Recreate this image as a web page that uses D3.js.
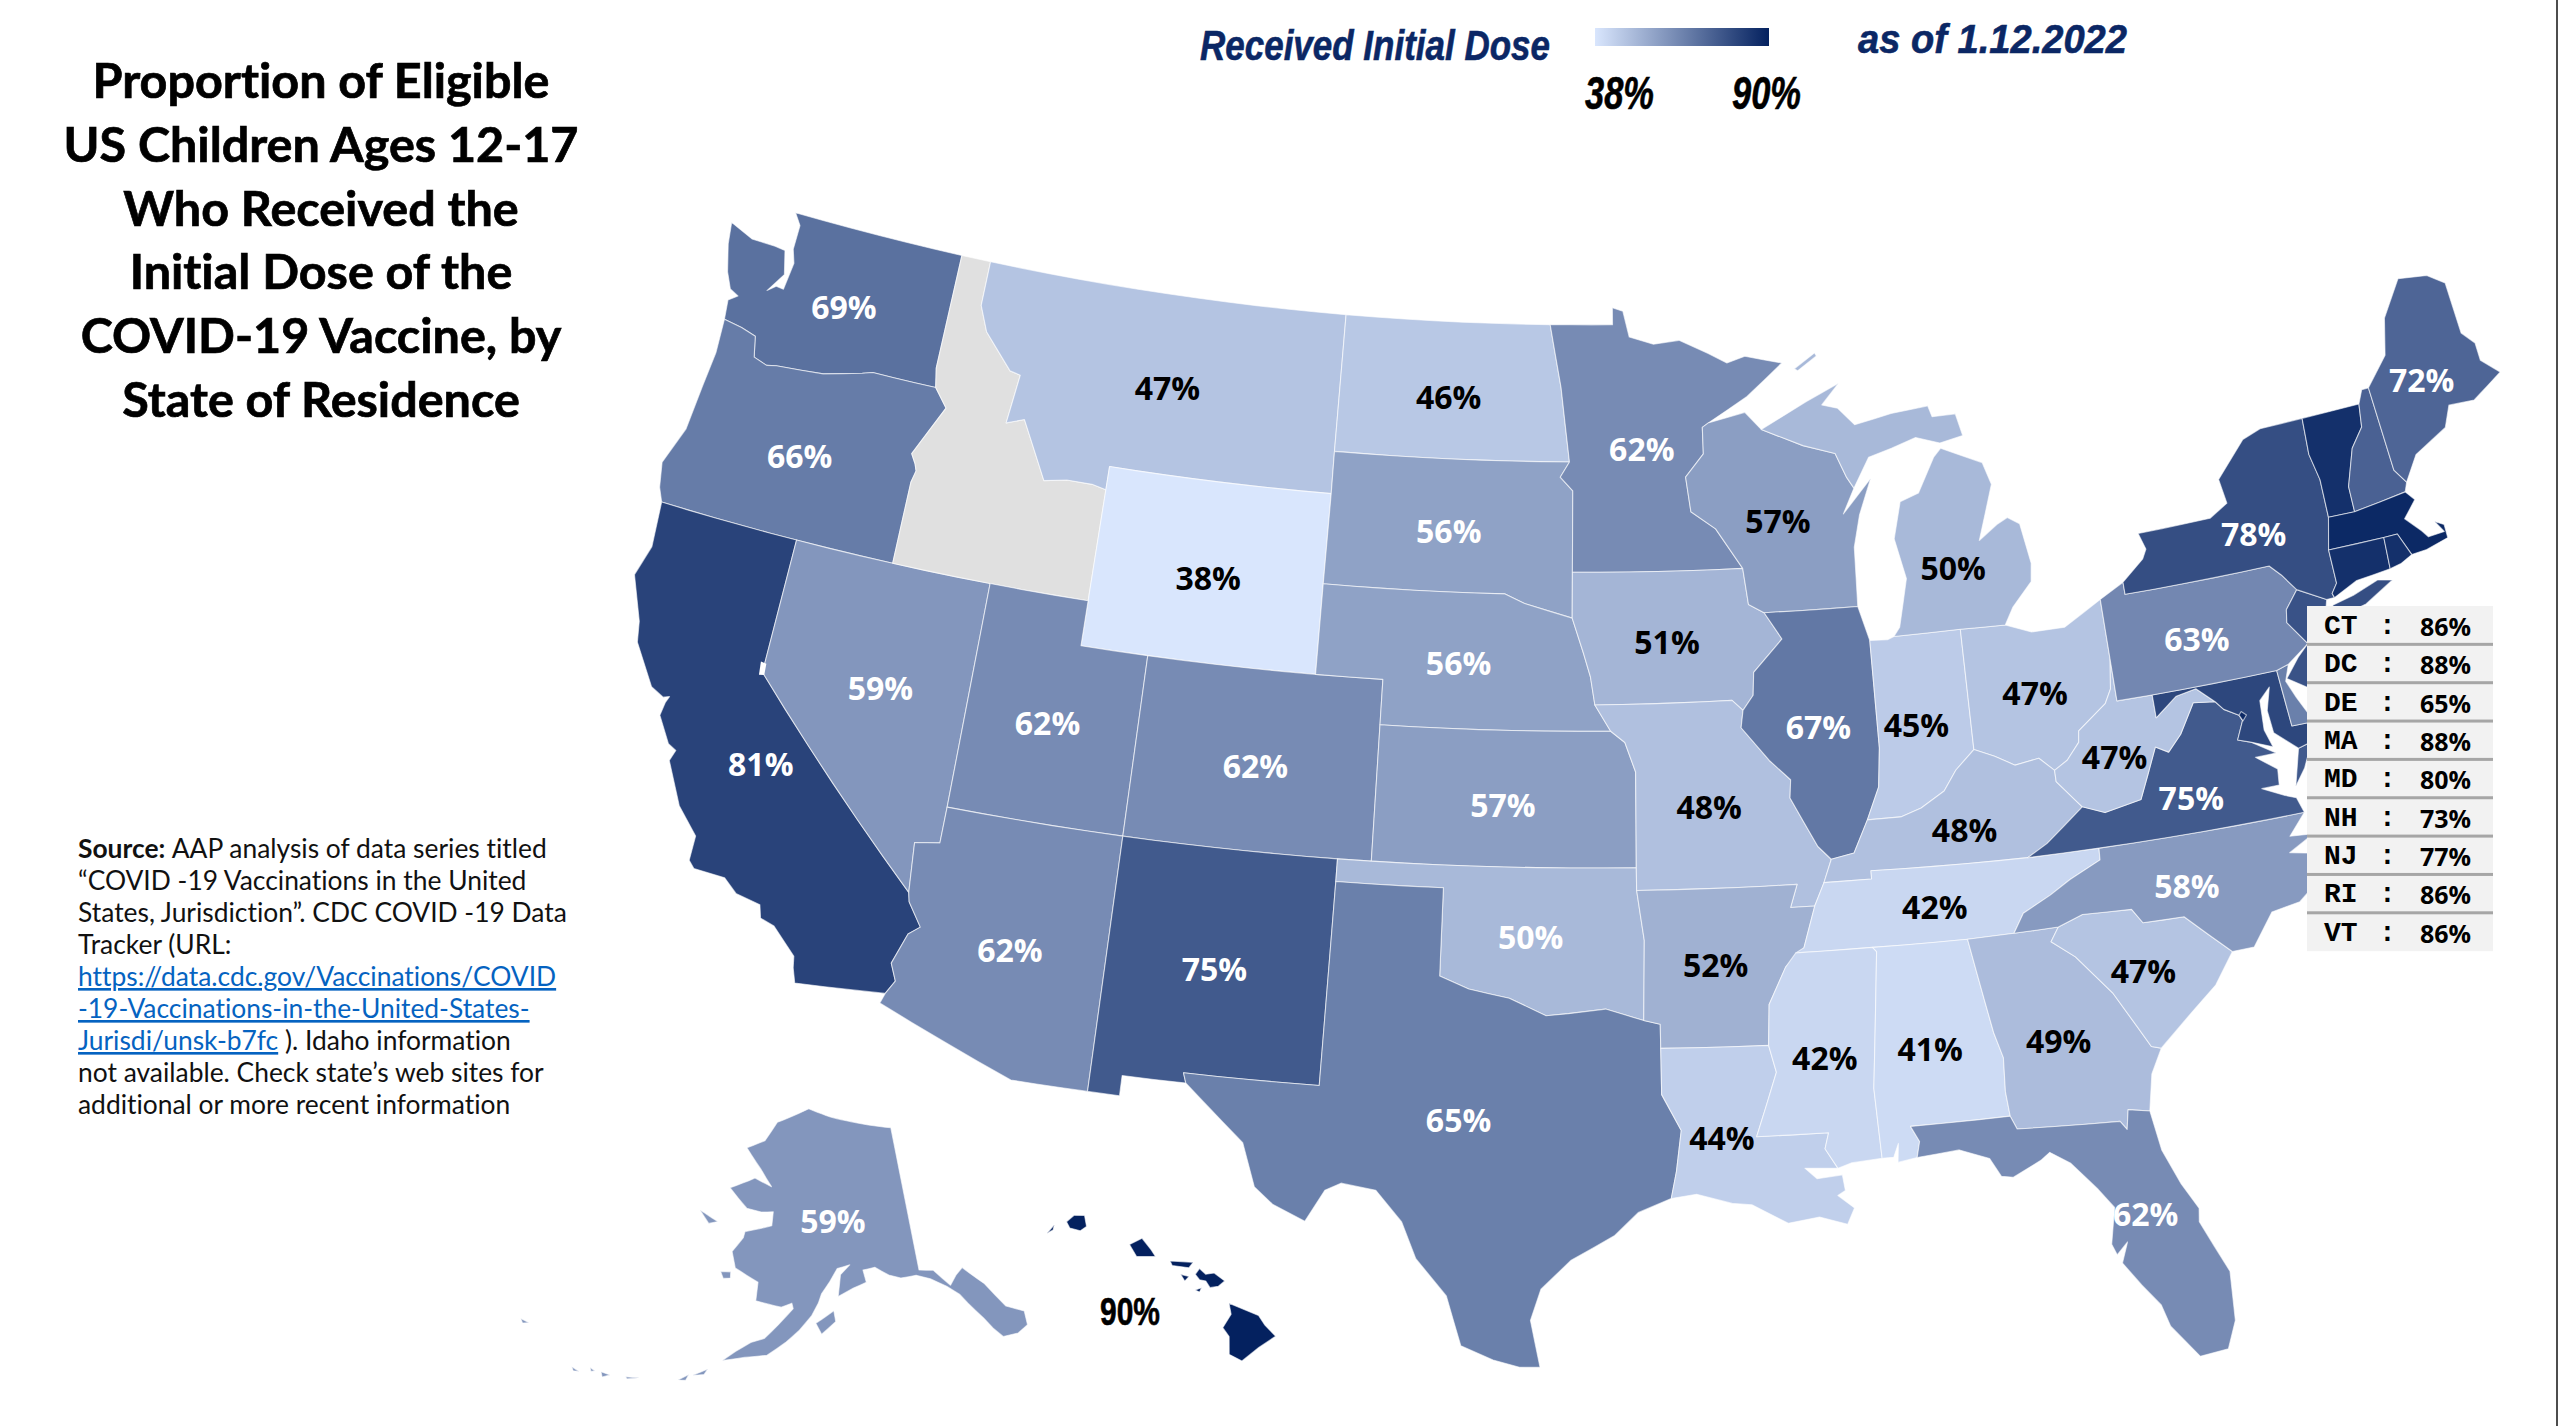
<!DOCTYPE html>
<html>
<head>
<meta charset="utf-8">
<title>Proportion of Eligible US Children Ages 12-17 Who Received the Initial Dose</title>
<style>
html, body { margin: 0; background: #fff; }
svg { display: block; }
text { font-variant-ligatures: none; }
.pct { font-family: "Open Sans", sans-serif; font-weight: 700; font-size: 32px; text-anchor: middle; }
.legend { font-family: "Liberation Sans", sans-serif; font-weight: 700; font-style: italic; }
.title { font-family: Lato, sans-serif; font-weight: 700; font-size: 48.5px; text-anchor: middle; stroke: #000; stroke-width: 0.7px; }
.source { font-family: Lato, sans-serif; font-size: 26.4px; fill: #111; }
</style>
</head>
<body>
<svg width="2558" height="1426"></svg>
<script src="https://cdnjs.cloudflare.com/ajax/libs/d3/7.8.5/d3.min.js"></script>
<script>
// state values, percent who received initial dose (Idaho not available)
var stateCodes = ["WA","OR","CA","NV","MT","ND","SD","WY","UT","CO","AZ","NM","NE","KS","OK","TX","MN","IA","MO","AR","LA","WI","IL","IN","OH","MI","KY","TN","MS","AL","GA","SC","FL","NC","VA","WV","PA","NY","ME","AK","HI"];
var stateValues = [69,66,81,59,47,46,56,38,62,62,62,75,56,57,50,65,62,51,48,52,44,57,67,45,47,50,48,42,42,41,49,47,62,58,75,47,63,78,72,59,90];
// where each percent label sits, lon/lat
var labelLon = [-120.4,-120.55,-119.4,-116.58,-109.6,-100.5,-100.3,-107.55,-111.65,-105.55,-111.65,-106.1,-99.83,-98.4,-97.55,-99.35,-94.25,-93.6,-92.52,-92.5,-92.5,-90.05,-89.25,-86.4,-82.85,-84.8,-85.35,-86.4,-89.7,-86.9,-83.5,-81,-81.9,-79.45,-78.9,-80.85,-77.9,-75.6,-69.4,-152.1,-158];
var labelLat = [47.25,43.8,37.03,39.25,46.9,47.3,44.33,42.85,39.2,38.87,34.15,34.33,41.43,38.35,35.47,31.4,46.2,41.93,38.27,34.8,31,44.5,39.9,39.77,40.15,43.1,37.35,35.75,32.65,32.65,32.5,33.75,28.45,35.45,37.33,38.5,40.73,42.75,45.15,64,19.8];
var darkLabels = ["MT","ND","WY","IA","MO","AR","LA","WI","IN","OH","MI","KY","TN","MS","AL","GA","SC","WV","HI"];

// small states listed in the side table
var tableCodes = ["CT","DC","DE","MA","MD","NH","NJ","RI","VT"];
var tableValues = [86,88,65,88,80,73,77,86,86];

var legendTicks = [38,90];
var titleLines = ["Proportion of Eligible","US Children Ages 12-17","Who Received the","Initial Dose of the","COVID-19 Vaccine, by","State of Residence"];
var sourceLines = [
  "AAP analysis of data series titled",
  "\u201cCOVID -19 Vaccinations in the United",
  "States, Jurisdiction\u201d. CDC COVID -19 Data",
  "Tracker (URL:",
  "https://data.cdc.gov/Vaccinations/COVID",
  "-19-Vaccinations-in-the-United-States-",
  "Jurisdi/unsk-b7fc",
  "not available. Check state\u2019s web sites for",
  "additional or more recent information"
];

// outlines as lon,lat
var outlines = {
  WA:["-124.7,48.38 -123.9,48.16 -123.1,48.15 -122.75,48.12 -122.55,47.6 -122.95,47.15 -122.7,47.3 -122.45,47.28 -122.35,47.9 -122.5,48.2 -122.5,48.75 -122.76,49 -117.03,49 -117.04,46.42 -116.92,45.995 -118.98,46 -119.3,45.93 -120.5,45.7 -121.2,45.65 -122,45.6 -122.3,45.55 -122.75,45.65 -122.9,46.1 -123.4,46.2 -124,46.27 -124.07,46.7 -123.8,46.85 -124.1,46.95 -124.35,47.3 -124.6,47.9"],
  OR:["-124,46.27 -123.4,46.2 -122.9,46.1 -122.75,45.65 -122.3,45.55 -122,45.6 -121.2,45.65 -120.5,45.7 -119.3,45.93 -118.98,46 -116.92,45.995 -116.46,45.6 -116.85,45 -117.2,44.45 -117.03,44.25 -116.95,44.1 -117.03,43.83 -117.03,42 -120,42 -124.21,42 -124.4,42.3 -124.55,42.84 -124.15,43.7 -124.05,44.7 -123.95,45.5"],
  CA:["-124.21,42 -120,42 -120,39 -114.63,35 -114.57,34.8 -114.14,34.3 -114.43,34.1 -114.72,33.4 -114.52,33.03 -114.72,32.72 -117.12,32.53 -117.25,32.85 -117.3,33.1 -118,33.65 -118.4,33.75 -118.5,34.03 -119.2,34.15 -119.6,34.42 -120.47,34.45 -120.65,34.6 -120.65,35.15 -121.3,35.7 -121.9,36.6 -121.8,36.85 -122.05,36.95 -122.5,37.5 -122.45,37.8 -122.38,37.95 -122.55,37.9 -122.95,38.05 -123.7,38.9 -123.82,39.35 -124.35,40.3 -124.1,41"],
  NV:["-120,42 -117.03,42 -114.04,42 -114.04,37 -114.05,36.2 -114.74,36.1 -114.63,35 -120,39"],
  ID:["-117.03,49 -116.05,49 -116.05,48 -115.7,47.45 -114.7,46.7 -114.35,46.65 -114.5,45.55 -113.95,45.7 -113.45,45.05 -113,44.45 -112.3,44.55 -111.5,44.55 -111.05,44.48 -111.05,42 -114.04,42 -117.03,42 -117.03,43.83 -116.95,44.1 -117.03,44.25 -117.2,44.45 -116.85,45 -116.46,45.6 -116.92,45.995 -117.04,46.42"],
  MT:["-116.05,49 -104.05,49 -104.05,45.94 -104.04,45 -111.05,45 -111.05,44.48 -111.5,44.55 -112.3,44.55 -113,44.45 -113.45,45.05 -113.95,45.7 -114.5,45.55 -114.35,46.65 -114.7,46.7 -115.7,47.45 -116.05,48"],
  WY:["-111.05,45 -104.04,45 -104.05,43 -104.05,41 -111.05,41 -111.05,42 -111.05,44.48"],
  UT:["-114.04,42 -111.05,42 -111.05,41 -109.05,41 -109.05,37 -114.04,37"],
  CO:["-109.05,41 -104.05,41 -102.05,41 -102.05,40 -102.05,37 -103,37 -109.05,37"],
  AZ:["-114.63,35 -114.74,36.1 -114.05,36.2 -114.04,37 -109.05,37 -109.05,31.33 -111.07,31.33 -114.81,32.49 -114.72,32.72 -114.52,33.03 -114.72,33.4 -114.43,34.1 -114.14,34.3 -114.57,34.8"],
  NM:["-109.05,37 -103,37 -103,36.5 -103.04,32 -106.62,32 -106.53,31.78 -108.21,31.78 -108.21,31.33 -109.05,31.33"],
  ND:["-104.05,49 -97.23,49 -96.85,47.6 -96.56,45.94 -104.05,45.94"],
  SD:["-104.05,45.94 -96.56,45.94 -96.85,45.6 -96.45,45.3 -96.45,43.5 -96.45,42.49 -97.9,42.8 -98.5,43 -104.05,43 -104.04,45"],
  NE:["-104.05,43 -98.5,43 -97.9,42.8 -96.45,42.49 -96.1,41.7 -95.9,41.2 -95.77,40.58 -95.31,40 -102.05,40 -102.05,41 -104.05,41"],
  KS:["-102.05,40 -95.31,40 -94.9,39.75 -94.6,39.1 -94.62,37 -102.05,37"],
  OK:["-103,37 -102.05,37 -94.62,37 -94.62,36.5 -94.43,35.4 -94.48,33.64 -95.5,33.9 -96.5,33.8 -97.1,33.75 -98.1,34.12 -99.2,34.3 -100,34.56 -100,36.5 -103,36.5"],
  TX:["-103,36.5 -100,36.5 -100,34.56 -99.2,34.3 -98.1,34.12 -97.1,33.75 -96.5,33.8 -95.5,33.9 -94.48,33.64 -94.04,33.55 -94.04,33.02 -94.04,32 -93.55,31.2 -93.7,30.3 -93.85,29.7 -94.7,29.4 -95.3,28.9 -96.4,28.35 -97.15,27.7 -97.4,27 -97.15,25.96 -97.65,25.95 -98.3,26.1 -99.1,26.4 -99.5,27.5 -100.3,28.3 -100.7,29.1 -101.4,29.77 -102.3,29.88 -102.7,29.7 -103.15,28.98 -104,29.3 -104.5,29.65 -104.9,30.6 -106,31.4 -106.53,31.78 -106.62,32 -103.04,32"],
  MN:["-97.23,49 -95.15,49 -95.15,49.38 -94.8,49.3 -94.6,48.72 -93.8,48.55 -92.95,48.62 -92,48.3 -91.4,48.07 -90.8,48.2 -89.6,48 -90.8,47.3 -92.1,46.75 -92.29,46.66 -92.29,46.07 -92.88,45.57 -92.75,44.8 -92,44.4 -91.22,43.5 -96.45,43.5 -96.45,45.3 -96.85,45.6 -96.56,45.94 -96.85,47.6"],
  IA:["-96.45,43.5 -91.22,43.5 -91.1,42.7 -90.64,42.5 -90.15,41.9 -91.05,41.2 -91.1,40.7 -91.42,40.38 -91.73,40.61 -95.77,40.58 -95.9,41.2 -96.1,41.7 -96.45,42.49"],
  MO:["-95.77,40.58 -91.73,40.61 -91.42,40.38 -91.5,40 -90.73,39.25 -90.15,38.8 -90.2,38.4 -89.5,37.3 -89.15,37 -89.4,36.5 -89.7,36 -90.37,36 -90.15,36.5 -94.62,36.5 -94.62,37 -94.6,39.1 -94.9,39.75 -95.31,40"],
  AR:["-94.62,36.5 -90.15,36.5 -90.37,36 -89.7,36 -90.07,35.1 -90.6,34.7 -91.1,33.9 -91.17,33 -94.04,33.02 -94.04,33.55 -94.48,33.64 -94.43,35.4"],
  LA:["-94.04,33.02 -91.17,33 -91,32.4 -91.6,31 -89.73,31 -89.85,30.65 -89.55,30.2 -90.4,30.25 -90.1,30 -89.45,30.05 -89.4,29.7 -89.6,29.6 -89.2,29.3 -89.4,28.95 -90.1,29.15 -90.9,29.05 -91.8,29.5 -92.3,29.55 -93.2,29.78 -93.85,29.7 -93.7,30.3 -93.55,31.2 -94.04,32"],
  WI:["-92.29,46.66 -92.1,46.75 -90.9,46.95 -90.4,46.55 -89.1,46.13 -88.1,45.9 -87.8,45.35 -87.6,45.1 -88,44.55 -87.05,45.28 -87.5,44.5 -87.75,43.8 -87.8,42.49 -90.64,42.5 -91.1,42.7 -91.22,43.5 -92,44.4 -92.75,44.8 -92.88,45.57 -92.29,46.07"],
  IL:["-90.64,42.5 -87.8,42.49 -87.53,41.72 -87.53,39.35 -87.65,38.5 -88.05,37.8 -88.5,37.1 -89.15,37 -89.5,37.3 -90.2,38.4 -90.15,38.8 -90.73,39.25 -91.5,40 -91.42,40.38 -91.1,40.7 -91.05,41.2 -90.15,41.9"],
  IN:["-87.53,41.72 -87,41.7 -86.8,41.76 -84.8,41.76 -84.82,39.1 -85.4,38.7 -85.8,38.27 -86.5,37.95 -87.1,37.8 -88.05,37.8 -87.65,38.5 -87.53,39.35"],
  OH:["-84.8,41.76 -83.45,41.73 -82.7,41.5 -81.7,41.5 -80.52,41.98 -80.52,40.64 -80.65,40 -80.87,39.7 -81.75,39.2 -81.8,38.95 -82.2,38.6 -82.6,38.42 -83,38.73 -83.7,38.65 -84.25,38.9 -84.82,39.1"],
  MI:["-86.8,41.76 -84.8,41.76 -83.45,41.73 -83.15,42.1 -82.5,42.6 -82.42,43 -82.6,43.9 -82.95,44.07 -83.3,43.95 -83.9,43.65 -83.3,44.85 -83.5,45.35 -84.75,45.78 -85,45.6 -85.6,44.85 -86.2,44.7 -86.5,43.9 -86.25,43 -86.6,41.95",
      "-90.4,46.55 -89.1,46.13 -88.1,45.9 -87.8,45.35 -87.6,45.1 -87.05,45.75 -86.3,45.9 -85.5,46.08 -84.75,45.9 -84,46 -84.15,46.5 -84.9,46.5 -85,46.75 -86.2,46.67 -87.4,46.5 -87.9,46.9 -88.4,47 -87.8,47.45 -88.9,47.1",
      "-89.2,47.85 -88.5,48.17 -88.45,48.1 -89.1,47.8"],
  KY:["-89.4,36.5 -88.07,36.5 -88.07,36.68 -83.68,36.6 -83.1,36.85 -81.97,37.54 -82.6,38.17 -82.6,38.42 -83,38.73 -83.7,38.65 -84.25,38.9 -84.82,39.1 -85.4,38.7 -85.8,38.27 -86.5,37.95 -87.1,37.8 -88.05,37.8 -88.5,37.1 -89.15,37"],
  TN:["-89.7,36 -89.4,36.5 -88.07,36.5 -88.07,36.68 -83.68,36.6 -81.68,36.59 -81.7,36.33 -82.6,36 -83.2,35.72 -84,35.4 -84.32,34.99 -85.6,34.98 -88.2,35 -90.3,35 -90.07,35.1"],
  MS:["-90.3,35 -88.2,35 -88.1,34.9 -88.47,31.9 -88.4,30.35 -89.2,30.3 -89.55,30.2 -89.85,30.65 -89.73,31 -91.6,31 -91,32.4 -91.17,33 -91.1,33.9 -90.6,34.7"],
  AL:["-88.2,35 -85.6,34.98 -85.18,32.87 -85,32.3 -85.05,31.55 -85,31 -87.6,31 -87.4,30.65 -87.5,30.3 -88,30.23 -87.95,30.65 -88.1,30.35 -88.4,30.35 -88.47,31.9 -88.1,34.9"],
  GA:["-85.6,34.98 -84.32,34.99 -83.1,35 -83.35,34.7 -82.75,34.3 -81.9,33.4 -81.4,32.6 -81.1,32.1 -80.85,32.03 -81.2,31.5 -81.4,30.7 -81.95,30.8 -82.05,30.37 -82.2,30.57 -84.86,30.7 -85,31 -85.05,31.55 -85,32.3 -85.18,32.87"],
  FL:["-87.6,31 -85,31 -84.86,30.7 -82.2,30.57 -82.05,30.37 -81.95,30.8 -81.4,30.7 -81.25,29.8 -80.9,29 -80.55,28.4 -80.6,28.1 -80.05,26.9 -80.12,25.8 -80.4,25.2 -81.1,25.13 -81.7,25.9 -81.85,26.4 -82.25,26.9 -82.65,27.45 -82.45,27.9 -82.75,27.65 -82.85,27.9 -82.65,28.7 -83,29.15 -83.6,29.8 -84.1,30.1 -84.35,29.95 -85.1,29.65 -85.4,29.7 -85.65,30.12 -86.4,30.38 -87.5,30.3 -87.4,30.65"],
  SC:["-83.35,34.7 -83.1,35 -82.4,35.2 -81.05,35.15 -80.8,34.82 -79.67,34.8 -78.55,33.86 -79.15,33.2 -79.9,32.7 -80.85,32.03 -81.1,32.1 -81.4,32.6 -81.9,33.4 -82.75,34.3"],
  NC:["-84.32,34.99 -84,35.4 -83.2,35.72 -82.6,36 -81.7,36.33 -81.68,36.59 -75.87,36.55 -76.4,36.1 -75.75,36.05 -76.5,35.75 -75.7,35.6 -75.5,35.25 -76.5,34.65 -77.3,34.55 -77.95,33.87 -78.55,33.86 -79.67,34.8 -80.8,34.82 -81.05,35.15 -82.4,35.2 -83.1,35"],
  VA:["-83.68,36.6 -81.68,36.59 -75.87,36.55 -76,36.9 -76.3,37 -76.9,37.25 -76.4,37.25 -76.35,37.6 -76.9,37.95 -76.3,37.95 -76.95,38.3 -77.3,38.4 -77.05,38.8 -77.12,38.93 -77.52,39.12 -77.72,39.32 -78.35,39.39 -78.87,38.76 -79.3,38.42 -79.65,38.58 -80.3,37.5 -81.36,37.34 -81.97,37.54 -83.1,36.85",
      "-75.95,37.15 -75.65,37.95 -75.25,38.03 -75.6,37.5"],
  WV:["-82.6,38.42 -82.6,38.17 -81.97,37.54 -81.36,37.34 -80.3,37.5 -79.65,38.58 -79.3,38.42 -78.87,38.76 -78.35,39.39 -77.72,39.32 -78.2,39.68 -78.8,39.6 -79.48,39.21 -79.48,39.72 -80.52,39.72 -80.52,40.64 -80.65,40 -80.87,39.7 -81.75,39.2 -81.8,38.95 -82.2,38.6"],
  MD:["-79.48,39.72 -75.79,39.72 -75.7,38.46 -75.05,38.45 -75.25,38.03 -75.65,37.95 -76.25,38.4 -76.3,38.9 -76.1,39.4 -76.45,39.15 -76.5,38.5 -76.35,38.1 -76.95,38.3 -77.3,38.4 -77.05,38.8 -77.12,38.93 -77.52,39.12 -77.72,39.32 -78.2,39.68 -78.8,39.6 -79.48,39.21"],
  DC:["-77.12,38.93 -77.04,39 -76.91,38.9 -77.04,38.79"],
  DE:["-75.79,39.72 -75.42,39.8 -75.6,39.45 -75.4,39.05 -75.05,38.45 -75.7,38.46"],
  PA:["-80.52,41.98 -79.76,42.27 -79.76,42 -75.35,42 -75.05,41.75 -74.7,41.36 -75.13,40.98 -75.2,40.7 -74.73,40.15 -75.42,39.8 -75.79,39.72 -80.52,39.72"],
  NJ:["-74.7,41.36 -73.9,41 -74.05,40.65 -74.25,40.5 -74,40.45 -74.1,39.75 -74.4,39.4 -74.9,38.93 -75,39.2 -75.55,39.5 -75.1,39.9 -74.73,40.15 -75.2,40.7 -75.13,40.98"],
  NY:["-79.76,42.27 -79.05,42.7 -78.9,42.9 -79.05,43.27 -76.8,43.3 -76.2,43.55 -76.3,44.1 -75.3,44.85 -74.7,45 -73.34,45.01 -73.4,44.2 -73.25,43.6 -73.27,42.75 -73.5,42.05 -73.5,41.3 -73.7,41.1 -73.66,41 -73.9,41 -74.7,41.36 -75.05,41.75 -75.35,42 -79.76,42",
      "-74.03,40.6 -73.75,40.85 -73.1,40.95 -72.3,41.15 -71.87,41.07 -72.8,40.7 -73.6,40.58"],
  VT:["-73.34,45.01 -71.5,45.01 -71.6,44.5 -72.05,44.1 -72.45,43.3 -72.46,42.73 -73.27,42.75 -73.25,43.6 -73.4,44.2"],
  NH:["-71.5,45.01 -71.3,45.3 -71.08,45.3 -70.98,43.4 -70.7,43.07 -70.82,42.87 -72.46,42.73 -72.45,43.3 -72.05,44.1 -71.6,44.5"],
  ME:["-71.08,45.3 -70.3,45.9 -70,46.7 -69.23,47.46 -68.3,47.35 -67.8,47.07 -67.78,45.9 -67.45,45.6 -67.45,45.2 -66.97,44.82 -68,44.4 -68.8,44.45 -69.1,44 -70.2,43.6 -70.7,43.07 -70.98,43.4"],
  MA:["-73.5,42.05 -73.27,42.75 -72.46,42.73 -70.82,42.87 -70.6,42.65 -71.05,42.3 -70.65,41.95 -70.5,41.78 -70,41.8 -70.2,42.07 -69.95,41.95 -69.95,41.65 -70.65,41.52 -71.12,41.5 -71.38,42.02 -71.8,42.02"],
  CT:["-73.5,42.05 -71.8,42.02 -71.85,41.32 -72.9,41.25 -73.66,41 -73.7,41.1 -73.5,41.3"],
  RI:["-71.8,42.02 -71.38,42.02 -71.12,41.5 -71.5,41.37 -71.85,41.32"],
  AK:["-141,69.65 -141,60.3 -139.2,60.1 -137.5,58.9 -136.5,59.45 -135.5,59.8 -134,58.8 -133.4,58.4 -131.8,56.6 -130,55.9 -130.2,55 -131.5,54.7 -133.2,54.8 -134,55.5 -134.7,56.3 -136,57.5 -136.7,58.2 -138,58.9 -139.8,59.6 -141.5,60 -143.5,60 -145,60.3 -146.7,60.9 -148.3,60.8 -148,60 -149.7,59.7 -151.7,59.2 -151.3,60.6 -150,61.2 -151.7,61 -152.7,60.2 -153.8,59.4 -154.2,58.8 -155,58 -156.5,57 -158,56.2 -160,55.3 -162.5,55 -164.9,54.6 -163.6,55.3 -162,56 -160.5,56.35 -159,57.3 -158,57.95 -157.3,58.4 -157.5,58.75 -158.8,58.45 -162,58.7 -162,59.9 -165.2,60.6 -166,61.6 -164.8,62.6 -164.7,63 -161,63.6 -161,64.5 -162.8,64.4 -165,64.5 -168.1,65.6 -164.5,66.5 -161.7,66.1 -163.7,67.1 -166.7,68.35 -163.8,69 -162,70.3 -156.2,71.35 -152,70.8 -148,70.4",
      "-154.5,57.5 -152.3,58.3 -152.1,57.6 -153.8,56.8",
      "-167,60.2 -165.7,60.3 -165.6,59.9 -166.5,59.8",
      "-171.7,63.75 -168.8,63.3 -170,63.05",
      "-167.8,53.3 -166.3,53.9 -166.6,53.5",
      "-169.2,52.8 -168.2,53.3 -168.4,52.9",
      "-174.6,52.1 -173.2,52.3 -174.4,52",
      "-177.2,51.9 -176.2,51.9 -176.9,51.6",
      "-178.4,51.9 -177.8,51.8 -178.2,51.7",
      "-180.2,51.5 -179.3,51.4 -179.9,51.3",
      "-187.2,52.9 -186.2,52.9 -186.8,52.7"],
  HI:["-155.9,20.25 -155.6,20.13 -155.2,19.97 -155.05,19.75 -154.8,19.5 -155.2,19.25 -155.6,18.95 -155.9,19.1 -155.9,19.5 -156.05,19.7 -155.85,20",
      "-156.7,20.9 -156.6,21.03 -156.45,20.9 -156.25,20.93 -156,20.75 -156.15,20.63 -156.35,20.6 -156.45,20.75 -156.6,20.78",
      "-157.3,21.2 -156.75,21.17 -156.85,21.05 -157.25,21.1",
      "-157.05,20.9 -156.85,20.85 -156.95,20.75",
      "-156.7,20.55 -156.55,20.6 -156.6,20.5",
      "-158.27,21.57 -157.97,21.71 -157.75,21.45 -157.65,21.3 -158.1,21.3",
      "-159.78,22.07 -159.6,22.22 -159.35,22.22 -159.3,21.97 -159.45,21.87 -159.7,21.93",
      "-160.25,21.8 -160.07,22 -160.1,21.88"]
};
// Lake Tahoe shows as a white gap on the CA/NV line
var lakes = ["-120.12,39.22 -119.95,39.2 -119.93,38.95 -120.08,38.93"];

var svg = d3.select("svg");
var navy = "#0b2765";

// projections, each pinned to where a known point falls in the picture
function pin(p, lonlat, xy) {
  p.translate([0, 0]);
  var a = p(lonlat);
  return p.translate([xy[0] - a[0], xy[1] - a[1]]);
}
var lower48 = pin(d3.geoAlbers().scale(2585), [-107.55, 43], [1209, 572]);
var alaska = pin(d3.geoConicEqualArea().rotate([154, 0]).center([-2, 58.5]).parallels([55, 65]).scale(890), [-141, 60.3], [919, 1270]);
var hawaii = pin(d3.geoConicEqualArea().rotate([157, 0]).center([-3, 19.9]).parallels([8, 18]).scale(2560), [-155.5, 19.6], [1246, 1332]);
function projFor(code) { return code == "AK" ? alaska : code == "HI" ? hawaii : lower48; }

var color = d3.scaleLinear().domain(legendTicks).range(["#d9e6fd", "#04215f"]);

var valueOf = {};
stateCodes.forEach(function(c, i) { valueOf[c] = stateValues[i]; });
tableCodes.forEach(function(c, i) { valueOf[c] = tableValues[i]; });

// parallels curve on the map, so add points along long edges before projecting
function densify(pts) {
  var out = [];
  pts.forEach(function(a, i) {
    var b = pts[(i + 1) % pts.length];
    var n = Math.max(1, Math.ceil(Math.max(Math.abs(b[0] - a[0]), Math.abs(b[1] - a[1]))));
    for (var k = 0; k < n; k++) out.push([a[0] + (b[0] - a[0]) * k / n, a[1] + (b[1] - a[1]) * k / n]);
  });
  return out;
}
var ringLine = d3.line().curve(d3.curveLinearClosed);
function ringPath(s, proj) {
  var pts = s.split(" ").map(function(p) { return p.split(",").map(Number); });
  return ringLine(densify(pts).map(proj));
}
function statePath(code) {
  return outlines[code].map(function(s) { return ringPath(s, projFor(code)); }).join("");
}

svg.append("g").selectAll("path")
  .data(Object.keys(outlines))
  .enter().append("path")
  .attr("d", statePath)
  .attr("fill", function(d) { return valueOf[d] == null ? "#e0e0e0" : color(valueOf[d]); })
  .attr("stroke", "#fff")
  .attr("stroke-opacity", 0.6)
  .attr("stroke-width", 1.1)
  .attr("stroke-linejoin", "round");

svg.append("path").attr("d", ringPath(lakes[0], lower48)).attr("fill", "#fff");

// percent labels
svg.append("g").selectAll("text")
  .data(stateCodes.filter(function(c) { return c != "HI"; }))
  .enter().append("text")
  .attr("class", "pct")
  .attr("transform", function(d) {
    var i = stateCodes.indexOf(d);
    return "translate(" + projFor(d)([labelLon[i], labelLat[i]]) + ")";
  })
  .attr("dy", "0.36em")
  .attr("fill", function(d) { return darkLabels.indexOf(d) >= 0 ? "#000" : "#fff"; })
  .text(function(d) { return stateValues[stateCodes.indexOf(d)] + "%"; });

// hawaii's label is set like the legend, not like the others
svg.append("text").attr("font-family", "Liberation Sans").attr("font-weight", 700)
  .attr("font-size", 39).attr("x", 1100).attr("y", 1325).attr("stroke", "#000").attr("stroke-width", 0.6)
  .attr("textLength", 60).attr("lengthAdjust", "spacingAndGlyphs")
  .text(stateValues[stateCodes.indexOf("HI")] + "%");

// title
svg.append("g").selectAll("text")
  .data(titleLines)
  .enter().append("text")
  .attr("class", "title")
  .attr("x", 321)
  .attr("y", function(d, i) { return 98 + i * 63.8; })
  .text(function(d) { return d; });

// legend
var grad = svg.append("defs").append("linearGradient").attr("id", "ramp");
grad.selectAll("stop").data(legendTicks).enter().append("stop")
  .attr("offset", function(d, i) { return i * 100 + "%"; })
  .attr("stop-color", function(d) { return color(d); });
svg.append("rect").attr("x", 1595).attr("y", 28).attr("width", 174).attr("height", 18).attr("fill", "url(#ramp)");

function legendText(txt, x, y, size, len, fill) {
  svg.append("text").attr("class", "legend").attr("x", x).attr("y", y)
    .attr("font-size", size).attr("fill", fill).attr("stroke", fill).attr("stroke-width", 0.6)
    .attr("textLength", len).attr("lengthAdjust", "spacingAndGlyphs")
    .text(txt);
}
legendText("Received Initial Dose", 1200, 60, 43, 350, navy);
legendText("as of 1.12.2022", 1858, 53, 40, 269, navy);
legendText(legendTicks[0] + "%", 1585, 109, 46, 69, "#000");
legendText(legendTicks[1] + "%", 1732, 109, 46, 69, "#000");

// side table
var rowH = 38.35;
var row = svg.append("g").selectAll("g")
  .data(tableCodes)
  .enter().append("g")
  .attr("transform", function(d, i) { return "translate(2307," + (606 + i * rowH) + ")"; });
row.append("rect").attr("width", 186).attr("height", rowH).attr("fill", "#f2f2f2");
row.filter(function(d, i) { return i > 0; }).append("rect").attr("y", -1.5).attr("width", 186).attr("height", 3).attr("fill", "#a6a6a6");
row.append("text").attr("x", 17).attr("y", 28).attr("font-family", "Liberation Mono").attr("font-weight", 700).attr("font-size", 28).text(function(d) { return d; });
row.append("text").attr("x", 72).attr("y", 28).attr("font-family", "Liberation Mono").attr("font-weight", 700).attr("font-size", 28).text(":");
row.append("text").attr("x", 113).attr("y", 30).attr("font-family", "Open Sans").attr("font-weight", 700).attr("font-size", 25).text(function(d, i) { return tableValues[i] + "%"; });

// source note
var src = svg.append("g").attr("class", "source");
sourceLines.forEach(function(line, i) {
  var y = 858 + i * 32;
  var t = src.append("text").attr("x", 78).attr("y", y);
  if (i == 0) t.append("tspan").attr("font-weight", 700).text("Source: ");
  var isLink = i >= 4 && i <= 6;
  t.append("tspan").attr("fill", isLink ? "#0563c1" : null).attr("text-decoration", isLink ? "underline" : null).text(line);
  if (i == 6) t.append("tspan").text(" ). Idaho information");
});

// page edge in the original screenshot
svg.append("rect").attr("x", 2556).attr("width", 2).attr("height", 1426).attr("fill", "#4d4d4d");
</script>
</body>
</html>
